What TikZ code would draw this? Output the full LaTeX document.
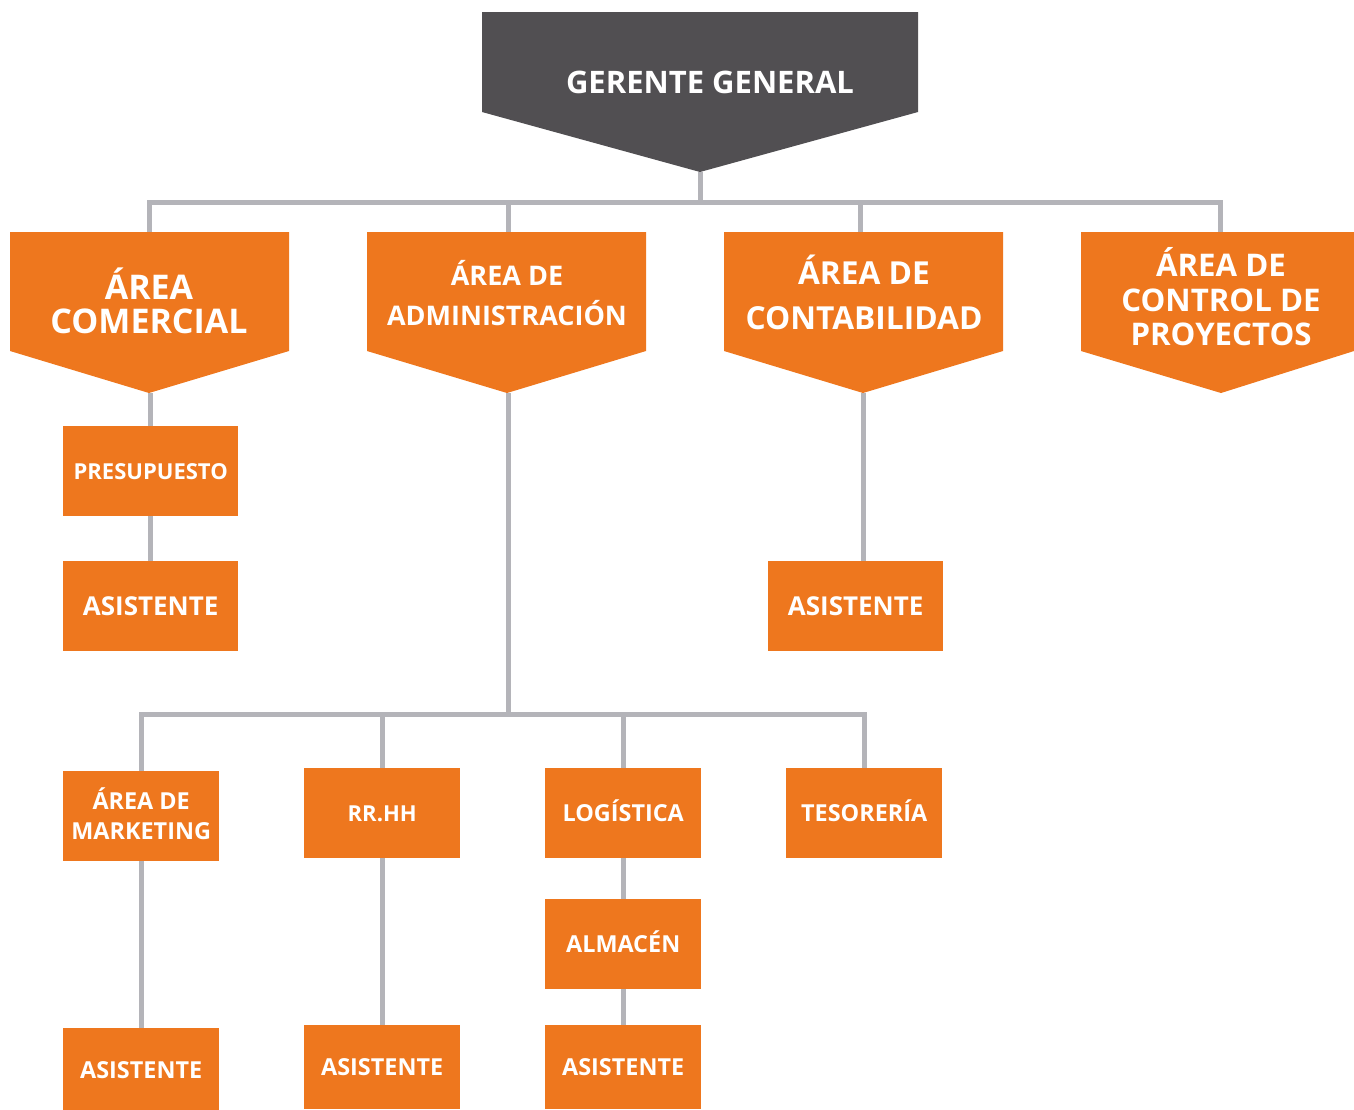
\documentclass[tikz,border=0pt]{standalone}
\usepackage{fontspec}
\setmainfont{Open Sans}
\definecolor{orng}{HTML}{EE771E}
\definecolor{dgray}{HTML}{514F52}
\definecolor{lgray}{HTML}{B4B4B9}
\begin{document}
\begin{tikzpicture}[x=1pt,y=-1pt,
  conn/.style={draw=lgray,line width=5pt},
  caps/.style={text height=#1,text depth=0pt},
  box/.style={fill=orng,text=white,inner sep=0pt,minimum height=90pt,minimum width=175pt,anchor=north west,align=center,caps=15.7pt,font=\bfseries\fontsize{22}{30}\selectfont},
  bigbox/.style={box,caps=18.6pt,font=\bfseries\fontsize{26}{30}\selectfont},
  sbox/.style={box,minimum width=156pt,caps=16.7pt,font=\bfseries\fontsize{23.4}{30}\selectfont},
  lbl/.style={text=white,inner sep=0pt,align=center}]
\useasboundingbox (0,0) rectangle (1354,1109);
% ---- gerente general
\fill[dgray] (482,12) -- (918,12) -- (918,112) -- (700,172) -- (482,112) -- cycle;
\coordinate (gg-tip) at (700,172);
\node[lbl,caps=22.1pt,font=\bfseries\fontsize{31}{32}\selectfont] (gg) at (710,82) {GERENTE GENERAL};
% ---- areas
\fill[orng] (10,232) -- (289,232) -- (289,351) -- (149,393) -- (10,351) -- cycle;
\coordinate (com-top) at (149,232); \coordinate (com-tip) at (150,393);
\node[lbl,caps=58.3pt,font=\bfseries\fontsize{34}{34}\selectfont] (com) at (149,304) {ÁREA\\COMERCIAL};
\fill[orng] (367,232) -- (646,232) -- (646,351) -- (507,393) -- (367,351) -- cycle;
\coordinate (adm-top) at (508,232); \coordinate (adm-tip) at (508,393);
\node[lbl,caps=59.3pt,font=\bfseries\fontsize{27}{40}\selectfont] (adm) at (507,296) {ÁREA DE\\ADMINISTRACIÓN};
\fill[orng] (724,232) -- (1003,232) -- (1003,351) -- (863,393) -- (724,351) -- cycle;
\coordinate (con-top) at (860,232); \coordinate (con-tip) at (863,393);
\node[lbl,caps=67.6pt,font=\bfseries\fontsize{31.7}{45}\selectfont] (con) at (864,296) {ÁREA DE\\CONTABILIDAD};
\fill[orng] (1081,232) -- (1354,232) -- (1354,351) -- (1221,393) -- (1081,351) -- cycle;
\coordinate (ctl-top) at (1220,232);
\node[lbl,caps=91.3pt,font=\bfseries\fontsize{31.2}{34.5}\selectfont] (ctl) at (1221,300) {ÁREA DE\\CONTROL DE\\PROYECTOS};
% ---- bus 1
\coordinate (bus1) at (700,202);
\draw[conn] (gg-tip) -- (bus1);
\draw[conn] (com-top) |- (bus1) -| (ctl-top);
\draw[conn] (adm-top) -- (adm-top |- bus1);
\draw[conn] (con-top) -- (con-top |- bus1);
% ---- boxes
\node[box] (pre) at (63,426) {PRESUPUESTO};
\node[bigbox] (asc) at (63,561) {ASISTENTE};
\node[bigbox] (asn) at (768,561) {ASISTENTE};
\node[sbox,caps=46.7pt] (mkt) at (63,771) {ÁREA DE\\MARKETING};
\node[sbox,caps=15.7pt,font=\bfseries\fontsize{22}{30}\selectfont] (rrhh) at (304,768) {RR.HH};
\node[sbox] (log) at (545,768) {LOGÍSTICA};
\node[sbox] (tes) at (786,768) {TESORERÍA};
\node[sbox] (alm) at (545,899) {ALMACÉN};
\node[sbox,minimum height=84pt] (asm) at (63,1028) {ASISTENTE};
\node[sbox,minimum height=84pt] (asr) at (304,1025) {ASISTENTE};
\node[sbox,minimum height=84pt] (asl) at (545,1025) {ASISTENTE};
% ---- connectors
\draw[conn] (com-tip) -- (com-tip |- pre.north);
\draw[conn] (pre.south) -- (asc.north);
\draw[conn] (con-tip) -- (con-tip |- asn.north);
\coordinate (bus2) at (508,714);
\draw[conn] (adm-tip) -- (bus2);
\draw[conn] (mkt.north) |- (bus2) -| (tes.north);
\draw[conn] (rrhh.north) -- (rrhh.north |- bus2);
\draw[conn] (log.north) -- (log.north |- bus2);
\draw[conn] (mkt.south) -- (asm.north);
\draw[conn] (rrhh.south) -- (asr.north);
\draw[conn] (log.south) -- (alm.north);
\draw[conn] (alm.south) -- (asl.north);
\end{tikzpicture}
\end{document}
